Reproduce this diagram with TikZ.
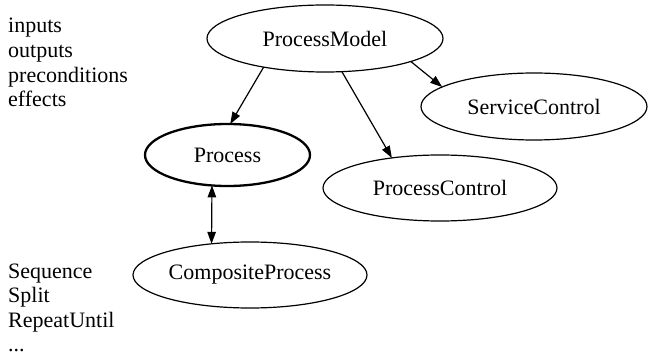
\documentclass[tikz,border=0pt]{standalone}
\usepackage{fontspec}
\setmainfont{Liberation Serif}
\usetikzlibrary{shapes.geometric,arrows.meta}
\begin{document}
\begin{tikzpicture}[x=1pt,y=-1pt,
  txt/.style={font=\fontsize{22}{25}\selectfont},
  ell/.style={ellipse,draw,line width=1.2pt,inner sep=0pt,outer sep=0pt,txt},
  lbl/.style={anchor=base west,inner sep=0pt,txt},
  edge/.style={line width=1.2pt,-{Triangle[length=12pt,width=8.5pt]}},
  bidir/.style={line width=1.2pt,{Triangle[length=12pt,width=8.5pt]}-{Triangle[length=12pt,width=8.5pt]}}]
\useasboundingbox (0,0) rectangle (648,358);
\node[ell,minimum width=236pt,minimum height=67pt] (pm) at (325,38.5) {ProcessModel};
\node[ell,minimum width=226pt,minimum height=67pt] (sc) at (534,106.5) {ServiceControl};
\node[ell,minimum width=234pt,minimum height=66pt] (pc) at (440,188) {ProcessControl};
\node[ell,line width=2.3pt,minimum width=165pt,minimum height=62pt] (proc) at (227.5,155) {Process};
\node[ell,minimum width=234pt,minimum height=66pt] (cp) at (250,275) {CompositeProcess};
\draw[edge] (pm.205) -- (proc.85);
\draw[edge] (pm.297) -- (pc.148);
\draw[edge] (pm.345) -- (sc.168);
\draw[bidir] (proc.243) -- (cp.141);
\node[lbl] (l1) at (8,33) {inputs};
\node[lbl] (l2) at (8,58) {outputs};
\node[lbl] (l3) at (8,82.5) {preconditions};
\node[lbl] (l4) at (8,107) {effects};
\node[lbl] (m1) at (8,278) {Sequence};
\node[lbl] (m2) at (8,302.5) {Split};
\node[lbl] (m3) at (8,327) {RepeatUntil};
\node[lbl] (m4) at (8,351.5) {...};
\end{tikzpicture}
\end{document}
